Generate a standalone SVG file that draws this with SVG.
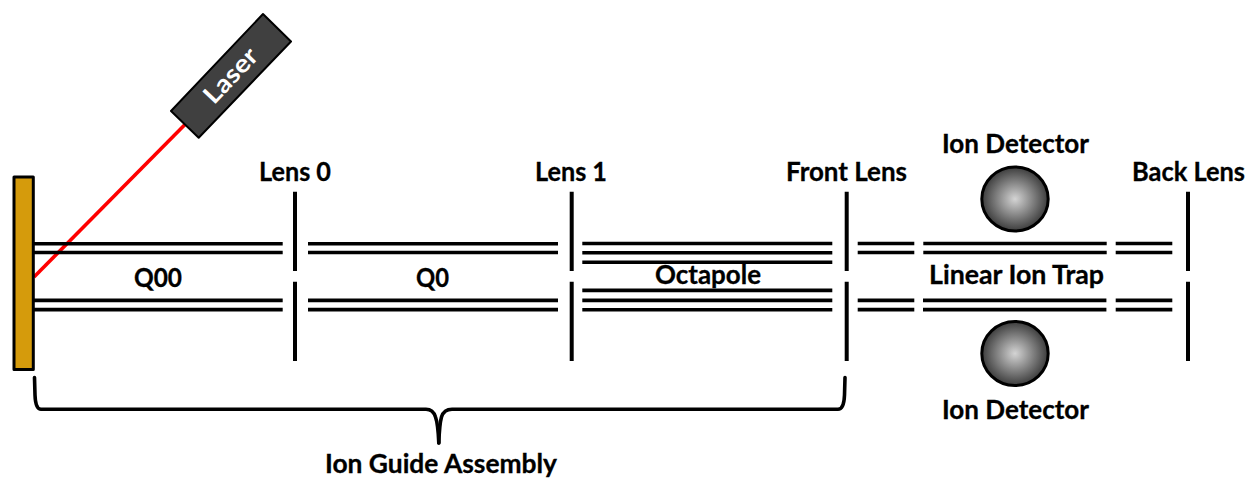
<svg xmlns="http://www.w3.org/2000/svg" width="1249" height="478" viewBox="0 0 1249 478">
<style>
text{font-family:"Lato","Open Sans",sans-serif;font-weight:700;font-size:26px;fill:#000;text-anchor:middle;stroke:#000;stroke-width:.3}
.r{stroke:#000;stroke-width:3.6;fill:none}
.l{stroke:#000;stroke-width:4;fill:none}
.b{stroke:#000;stroke-width:3.6;fill:none;stroke-linecap:round}
</style>
<defs>
<radialGradient id="ball" cx="50%" cy="50%" r="50%"><stop offset="0" stop-color="#d4d4d4"/><stop offset="1" stop-color="#3c3c3c"/></radialGradient>
</defs>
<rect width="1249" height="478" fill="#fff"/>
<g id="connectors">
<line x1="34" y1="277" x2="186" y2="123.5" stroke="#f00" stroke-width="3.6"/>
<path class="r" d="M34 243.7H282.7M34 252.5H282.7M34 300.4H282.7M34 309.6H282.7"/>
<path class="r" d="M308 243.7H558M308 252.5H558M308 300.4H558M308 309.6H558"/>
<path class="r" d="M582.3 243.5H832.3M582.3 252.7H832.3M582.3 262.3H832.3M582.3 290.4H832.3M582.3 300.4H832.3M582.3 309.7H832.3"/>
<path class="r" d="M857.7 243.5H914.3M857.7 252.5H914.3M857.7 300.4H914.3M857.7 309.6H914.3"/>
<path class="r" d="M923.3 243.5H1106.7M923.3 252.5H1106.7M923 300.4H1106.4M923 309.6H1106.4"/>
<path class="r" d="M1115.7 243.5H1172.3M1115.7 252.5H1172.3M1115.7 300.4H1172.3M1115.7 309.6H1172.3"/>
</g>
<g id="target"><rect x="14" y="177" width="19.3" height="192.5" fill="#d59b0c" stroke="#000" stroke-width="3" stroke-linejoin="round"/></g>
<g id="laser"><polygon points="263,14 291,41.5 198.7,137.7 171,111" fill="#404040" stroke="#000" stroke-width="2" stroke-linejoin="round"/>
<text transform="translate(231,76) rotate(-46.5)" x="0" y="8" textLength="66" lengthAdjust="spacingAndGlyphs" style="fill:#fff;stroke:none;font-size:25px">Laser</text></g>
<g id="lens0"><path class="l" d="M295 191.7V271M295 281.7V361"/><text x="295" y="181" textLength="72" lengthAdjust="spacingAndGlyphs">Lens 0</text></g>
<g id="lens1"><path class="l" d="M571.7 191.7V271M571.7 281.7V361"/><text x="571" y="181" textLength="72" lengthAdjust="spacingAndGlyphs">Lens 1</text></g>
<g id="front-lens"><path class="l" d="M846.7 191.7V271M846.7 281.7V361"/><text x="846.5" y="181" textLength="121" lengthAdjust="spacingAndGlyphs">Front Lens</text></g>
<g id="back-lens"><path class="l" d="M1188 191.7V271M1188 281.7V361"/><text x="1188.5" y="181" textLength="113" lengthAdjust="spacingAndGlyphs">Back Lens</text></g>
<g id="q00"><text x="158" y="287" textLength="48" lengthAdjust="spacingAndGlyphs">Q00</text></g>
<g id="q0"><text x="432.5" y="287" textLength="33" lengthAdjust="spacingAndGlyphs">Q0</text></g>
<g id="octapole"><text x="708" y="283.5" textLength="106" lengthAdjust="spacingAndGlyphs">Octapole</text></g>
<g id="linear-ion-trap"><text x="1016.5" y="284" textLength="175" lengthAdjust="spacingAndGlyphs">Linear Ion Trap</text></g>
<g id="detector-top"><ellipse cx="1015" cy="199" rx="33.2" ry="32" fill="url(#ball)" stroke="#000" stroke-width="3"/><text x="1015.5" y="153" textLength="147" lengthAdjust="spacingAndGlyphs">Ion Detector</text></g>
<g id="detector-bottom"><ellipse cx="1015" cy="353.5" rx="33.2" ry="32" fill="url(#ball)" stroke="#000" stroke-width="3"/><text x="1015.5" y="418.5" textLength="147" lengthAdjust="spacingAndGlyphs">Ion Detector</text></g>
<g id="ion-guide-assembly">
<path class="b" d="M34.5 377.5L35 395Q35.5 409.3 41 409.3H426Q433 409.3 435.5 417Q438 424 438.8 443"/>
<path class="b" d="M845 377.5L844.5 395Q844 409.3 838 409.3H452Q444 409.3 441.5 417Q439.5 424 438.8 443"/>
<text x="441" y="472.5" textLength="232" lengthAdjust="spacingAndGlyphs">Ion Guide Assembly</text></g>
</svg>
